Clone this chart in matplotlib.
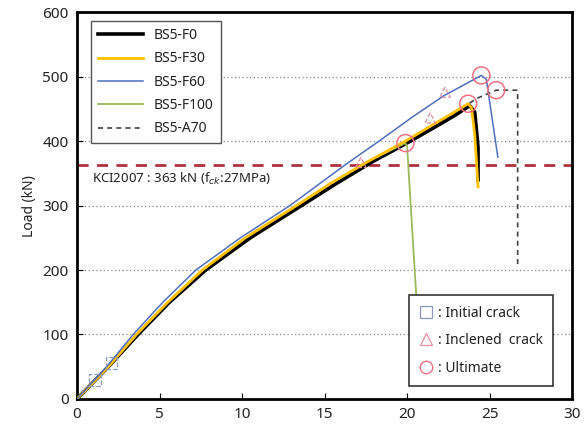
import numpy as np
import matplotlib.pyplot as plt
from matplotlib.lines import Line2D

plt.rcParams['font.family'] = ['Noto Sans', 'DejaVu Sans']

# deflection (mm) / load (kN) for each specimen
f0_x = [0, 1.9, 3.7, 5.6, 7.8, 10.5, 13.6, 15.7, 17.9, 20.2, 21.7, 22.9, 23.8, 24.1, 24.3, 24.3]
f0_y = [0, 50, 100, 150, 200, 250, 300, 334, 368, 400, 422, 440, 455, 445, 390, 340]
f30_x = [0, 1.9, 3.6, 5.5, 7.6, 10.2, 13.3, 15.4, 17.6, 19.9, 21.4, 22.6, 23.7, 23.9, 24.1, 24.3]
f30_y = [0, 50, 100, 150, 200, 250, 300, 335, 368, 400, 423, 441, 458, 452, 410, 329]
f60_x = [0, 1.8, 3.4, 5.2, 7.2, 9.9, 12.9, 14.7, 16.4, 18.3, 20.3, 22.2, 23.5, 24.5, 24.8, 25.5]
f60_y = [0, 50, 100, 150, 200, 250, 300, 334, 366, 400, 437, 470, 488, 502, 496, 375]
f100_x = [0, 1.9, 3.6, 5.5, 7.6, 10.2, 13.3, 15.4, 17.6, 19.9, 20.0, 20.7]
f100_y = [0, 50, 100, 150, 200, 250, 300, 335, 368, 397, 392, 100]
a70_x = [0, 1.9, 3.6, 5.6, 7.7, 10.4, 13.5, 15.6, 17.8, 20.1, 21.6, 23.0, 24.2, 25.4, 26.7, 26.7]
a70_y = [0, 50, 100, 150, 200, 250, 300, 334, 368, 400, 423, 445, 466, 479, 479, 205]

# crack / ultimate points
init_x = [1.1, 2.1]
init_y = [29, 56]
incl_x = [17.2, 21.4, 22.3]
incl_y = [367, 436, 476]
ult_x = [24.5, 25.4, 23.7, 19.9]
ult_y = [502, 479, 458, 397]

kci_load = 363

fig = plt.figure(figsize=(5.88, 4.36), dpi=100)
ax = fig.add_axes([0.131, 0.085, 0.842, 0.887])

for y in range(100, 600, 100):
    ax.axhline(y, color='#888888', lw=0.9, ls=(0, (1, 2)), zorder=1)

ax.axhline(kci_load, color='#b03040', lw=2, ls=(0, (4, 3)), zorder=2)

ax.plot(a70_x, a70_y, color='#404040', lw=1.2, ls=(0, (3, 2.5)), label='BS5-A70', zorder=2)
ax.plot(f0_x, f0_y, color='black', lw=2.6, label='BS5-F0', zorder=3)
ax.plot(f100_x, f100_y, color='#9bbb59', lw=1.3, label='BS5-F100', zorder=3)
ax.plot(f30_x, f30_y, color='#ffc000', lw=2.0, label='BS5-F30', zorder=4)
ax.plot(f60_x, f60_y, color='#4f6fbf', lw=1.1, label='BS5-F60', zorder=4)

ax.scatter(init_x, init_y, marker='s', s=70, facecolors='none', edgecolors='#8899bb',
           linestyles='--', lw=0.9, zorder=5)
ax.scatter(incl_x, incl_y, marker='^', s=55, facecolors='none', edgecolors='#e090a0',
           linestyles='--', lw=0.9, zorder=5)
ax.scatter(ult_x, ult_y, marker='o', s=150, facecolors='none', edgecolors='#f07080',
           lw=1.1, zorder=5)

ax.text(0.9, 342, 'KCI2007 : 363 kN (f$_{ck}$:27MPa)', fontsize=9.5, va='center',
        color='#222222')

ax.set_xlim(0, 30)
ax.set_ylim(0, 600)
ax.set_xticks(range(0, 31, 5))
ax.set_yticks(range(0, 601, 100))
ax.tick_params(direction='in', length=4, labelsize=11, pad=6, colors='black',
               labelcolor='#222222')
ax.set_ylabel('Load (kN)', fontsize=10, color='#222222')
for s in ax.spines.values():
    s.set_linewidth(2)

h = ax.get_legend_handles_labels()
order = ['BS5-F0', 'BS5-F30', 'BS5-F60', 'BS5-F100', 'BS5-A70']
hd = dict(zip(h[1], h[0]))
leg1 = ax.legend([hd[k] for k in order], order, loc='upper left',
                 bbox_to_anchor=(0.015, 0.995), fontsize=10, frameon=True,
                 fancybox=False, edgecolor='#555555', handlelength=3.2,
                 labelspacing=0.6, borderpad=0.5, framealpha=1)
leg1.get_frame().set_linewidth(1)
for t in leg1.get_texts():
    t.set_color('#222222')
ax.add_artist(leg1)

mk = [
    Line2D([], [], marker='s', ls='none', ms=8, mfc='none', mec='#8899bb', mew=0.9),
    Line2D([], [], marker='^', ls='none', ms=8, mfc='none', mec='#e090a0', mew=0.9),
    Line2D([], [], marker='o', ls='none', ms=9, mfc='none', mec='#f07080', mew=1.0),
]
leg2 = ax.legend(mk, [': Initial crack', ': Inclened  crack', ': Ultimate'],
                 loc='lower right', bbox_to_anchor=(0.975, 0.015), fontsize=10,
                 frameon=True, fancybox=False, edgecolor='#333333',
                 handlelength=1.0, handletextpad=0.3, labelspacing=0.9,
                 borderpad=0.75, framealpha=1)
leg2.get_frame().set_linewidth(1.2)
for t in leg2.get_texts():
    t.set_color('#222222')
leg2.set_zorder(10)

fig.savefig('out.png', dpi=100)
